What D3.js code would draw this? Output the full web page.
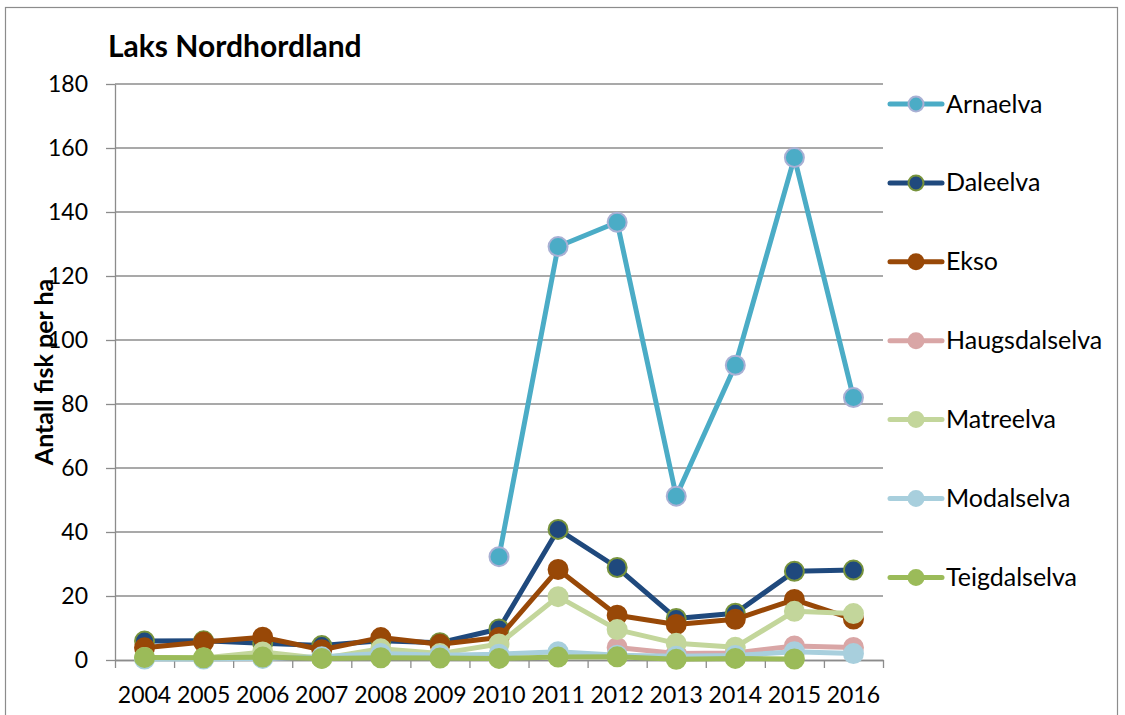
<!DOCTYPE html>
<html>
<head>
<meta charset="utf-8">
<script src="https://cdn.jsdelivr.net/npm/d3@7"></script>
<style>
    body { margin: 0; background: #fff; }
    text { font-family: Lato, "Noto Sans", sans-serif; fill: #000; }
</style>
</head>
<body>
<div id="chart"></div>
<script>
// data
const years = [2004, 2005, 2006, 2007, 2008, 2009, 2010, 2011, 2012, 2013, 2014, 2015, 2016];
const yTicks = [0, 20, 40, 60, 80, 100, 120, 140, 160, 180];
const seriesNames = ["Arnaelva", "Daleelva", "Ekso", "Haugsdalselva", "Matreelva", "Modalselva", "Teigdalselva"];

const arnaelva      = [null, null, null, null, null, null, 32.3, 129.2, 136.8, 51.2, 92.1, 157.0, 82.0];
const daleelva      = [5.9, 6.0, 5.2, 4.5, 6.0, 5.4, 9.7, 40.8, 28.9, 13.0, 14.6, 27.7, 28.1];
const ekso          = [3.8, 5.6, 7.1, 3.2, 7.0, 4.9, 7.0, 28.3, 14.0, 11.1, 12.7, 18.9, 12.8];
const haugsdalselva = [null, null, null, null, null, null, null, null, 3.9, 2.0, 2.2, 4.4, 3.9];
const matreelva     = [0.8, 0.6, 2.5, 0.5, 3.5, 2.0, 5.0, 19.8, 9.5, 5.2, 4.0, 15.2, 14.5];
const modalselva    = [0.3, 0.3, 0.5, 1.0, 2.0, 1.5, 1.8, 2.6, 1.5, 1.2, 1.4, 2.6, 2.0];
const teigdalselva  = [0.8, 0.7, 0.9, 0.5, 0.7, 0.6, 0.5, 0.9, 1.0, 0.2, 0.5, 0.3, null];

const seriesValues = [arnaelva, daleelva, ekso, haugsdalselva, matreelva, modalselva, teigdalselva];

// look of each series (fill, marker border)
const colors  = ["#4bacc6", "#1f497d", "#984807", "#d9a6a6", "#c3d69b", "#a8cfdd", "#9bbb59"];
const borders = ["#a9b0d4", "#77933c", "#984807", "#d9a6a6", "#c3d69b", "#a8cfdd", "#9bbb59"];

const W = 1125, H = 715;
const margin = {top: 84, right: 242, bottom: 55, left: 115};
const width = W - margin.left - margin.right;
const height = H - margin.top - margin.bottom;

const svg = d3.select("#chart").append("svg")
    .attr("width", W)
    .attr("height", H);

// outer frame
svg.append("rect")
    .attr("x", 5.5).attr("y", 7.5)
    .attr("width", 1112).attr("height", 720)
    .attr("fill", "none")
    .attr("stroke", "#8c8c8c")
    .attr("stroke-width", 1.2);

// title
svg.append("text")
    .attr("x", 108).attr("y", 57)
    .style("font-size", "30px")
    .style("font-weight", "bold")
    .text("Laks Nordhordland");

const g = svg.append("g")
    .attr("transform", `translate(${margin.left},${margin.top})`);

// scales
const x = d3.scaleBand().domain(years).range([0, width]);
const xEdge = d3.scaleLinear().domain([0, years.length]).range([0, width]);
const y = d3.scaleLinear().domain([0, 180]).range([height, 0]);

// gridlines
g.append("g")
    .selectAll("line")
    .data(yTicks.filter(d => d > 0))
    .enter().append("line")
    .attr("x1", 0).attr("x2", width)
    .attr("y1", d => y(d)).attr("y2", d => y(d))
    .attr("stroke", "#8c8c8c")
    .attr("stroke-width", 1.3);

// y axis
const yAxis = g.append("g")
    .call(d3.axisLeft(y).tickValues(yTicks).tickSize(9).tickPadding(18).tickSizeOuter(0));
yAxis.selectAll("text").style("font-size", "23px");

// x axis, labels in the middle of each band
const xAxis = g.append("g")
    .attr("transform", `translate(0,${height})`)
    .call(d3.axisBottom(x).tickSize(0).tickPadding(27).tickSizeOuter(0));
xAxis.selectAll("text").style("font-size", "23px");

// x tick marks between the categories
g.append("g")
    .attr("transform", `translate(0,${height})`)
    .call(d3.axisBottom(xEdge).tickValues(d3.range(years.length + 1)).tickSize(8).tickFormat("").tickSizeOuter(0));

svg.selectAll(".domain, .tick line")
    .attr("stroke", "#8c8c8c")
    .attr("stroke-width", 1.3);

// y axis title
svg.append("text")
    .attr("transform", "translate(53,372) rotate(-90)")
    .attr("text-anchor", "middle")
    .style("font-size", "25px")
    .style("font-weight", "bold")
    .text("Antall fisk per ha");

// lines + markers
const line = d3.line()
    .defined(d => d.v != null)
    .x(d => x(d.year) + x.bandwidth() / 2)
    .y(d => y(d.v));

seriesNames.forEach((name, i) => {
    let pts = years.map((yr, j) => ({year: yr, v: seriesValues[i][j]}));

    g.append("path")
        .datum(pts)
        .attr("d", line)
        .attr("fill", "none")
        .attr("stroke", colors[i])
        .attr("stroke-width", 5)
        .attr("stroke-linejoin", "round");

    g.append("g")
        .selectAll("circle")
        .data(pts.filter(d => d.v != null))
        .enter().append("circle")
        .attr("cx", d => x(d.year) + x.bandwidth() / 2)
        .attr("cy", d => y(d.v))
        .attr("r", 9.5)
        .attr("fill", colors[i])
        .attr("stroke", borders[i])
        .attr("stroke-width", 2);
});

// legend
const legend = svg.append("g")
    .attr("transform", "translate(890,104)");

const item = legend.selectAll(".item")
    .data(seriesNames)
    .enter().append("g")
    .attr("class", "item")
    .attr("transform", (d, i) => `translate(0,${i * 78.9})`);

item.append("line")
    .attr("x1", 0).attr("x2", 52)
    .attr("stroke", (d, i) => colors[i])
    .attr("stroke-width", 5)
    .attr("stroke-linecap", "round");

item.append("circle")
    .attr("cx", 26)
    .attr("r", 7.5)
    .attr("fill", (d, i) => colors[i])
    .attr("stroke", (d, i) => borders[i])
    .attr("stroke-width", 2);

item.append("text")
    .attr("x", 56)
    .attr("y", 8.5)
    .style("font-size", "25px")
    .text(d => d);
</script>
</body>
</html>
